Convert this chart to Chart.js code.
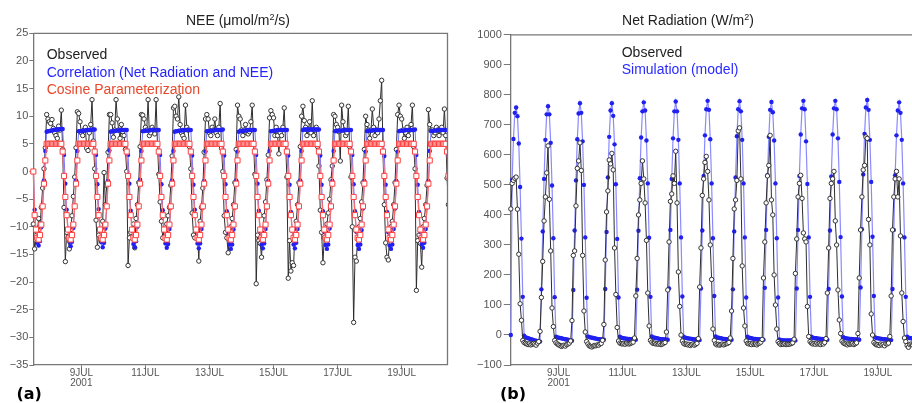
<!DOCTYPE html>
<html>
<head>
<meta charset="utf-8">
<script src="https://cdn.jsdelivr.net/npm/chart.js@4/dist/chart.umd.min.js"></script>
<style>
  html, body { margin: 0; padding: 0; background: #fff; width: 912px; height: 403px; overflow: hidden; }
  .panel { position: absolute; top: 0; }
</style>
</head>
<body>
<div class="panel" style="left:0"><canvas id="neeChart" width="460" height="403" style="width:460px;height:403px"></canvas></div>
<div class="panel" style="left:460px"><canvas id="rnChart" width="470" height="403" style="width:470px;height:403px"></canvas></div>
<script>
// hourly samples, first one at 12 UTC on 7 JUL 2001 (x axis in days of July)
const startDay = 7.5;
const endDay = 20.43;
const dayTicks = [9, 11, 13, 15, 17, 19];
const neeRange = [-35, 25, 5];
const rnRange = [-100, 1000, 100];

// NEE observed (umol/m2/s), one row per day
const neeObs = [
    [-9.5, -14.0, -12.5, -11.0, -8.5, -10.0, -6.5, -3.0, 0.5, 4.3, 10.3, 9.5],
    [9.0, 8.7, 9.4, 7.8, 7.0, 6.5, 6.0, 8.2, 7.5, 11.1, 4.0, -6.5, -16.3, -11.0, -12.0, -14.0, -10.5, -8.0, -4.5, -1.0, 4.3, 10.8, 10.5, 9.0],
    [7.0, 6.5, 7.5, 8.0, 4.2, 3.8, 7.0, 8.5, 13.0, 5.5, 0.5, -8.8, -13.7, -11.5, -10.5, -12.5, -9.0, -0.2, -6.0, -2.5, 3.5, 10.3, 10.3, 8.8],
    [6.2, 7.5, 13.0, 9.5, 7.5, 6.0, 8.5, 7.2, 6.5, 4.0, 0.0, -17.0, -12.0, -11.0, -10.5, -9.5, -13.8, -8.5, -6.0, -2.0, 4.5, 10.3, 10.2, 9.5],
    [8.0, 7.5, 13.0, 6.5, 7.0, 8.0, 7.5, 6.8, 13.0, 5.0, -0.5, -5.5, -9.0, -12.0, -10.7, -11.0, -9.5, -8.0, -6.5, -2.5, 2.8, 11.5, 11.8, 10.0],
    [9.5, 13.5, 8.5, 7.0, 6.5, 6.0, 12.0, 8.0, 7.5, 4.5, 0.5, -7.5, -11.5, -12.0, -10.5, -11.0, -16.2, -9.0, -6.5, -3.0, 3.5, 9.5, 10.3, 9.5],
    [7.0, 6.5, 8.0, 7.5, 9.5, 7.0, 6.5, 8.0, 12.3, 4.2, 0.0, -8.0, -11.0, -12.0, -14.7, -11.5, -10.0, -8.5, -6.0, -2.0, 4.0, 12.0, 10.0, 9.5],
    [7.5, 6.5, 7.5, 8.5, 7.0, 6.8, 7.2, 9.0, 12.0, 5.0, -0.5, -20.3, -11.5, -12.5, -13.0, -15.5, -10.5, -8.0, -5.5, -1.5, 3.0, 9.7, 11.0, 10.3],
    [9.7, 6.5, 8.0, 6.5, 3.2, 7.0, 6.5, 8.0, 11.5, 5.0, -1.0, -19.3, -12.5, -18.0, -16.5, -17.0, -11.0, -9.0, -6.0, -2.0, 4.5, 10.0, 11.8, 9.2],
    [8.0, 6.5, 7.5, 9.0, 7.0, 12.8, 6.5, 7.5, 8.0, 4.5, 1.0, -7.0, -11.0, -16.5, -12.0, -11.0, -9.5, -7.5, -5.0, -1.5, 1.0, 10.3, 10.0, 8.5],
    [8.0, 7.2, 1.9, 12.0, 9.0, 7.5, 6.5, 7.0, 11.8, 4.5, -1.0, -10.0, -27.3, -15.5, -16.2, -12.0, -10.0, -8.5, -5.5, -2.0, 4.0, 10.0, 8.5, 7.5],
    [6.0, 7.5, 11.3, 8.0, 6.5, 7.5, 7.0, 9.5, 12.8, 16.5, 3.5, -6.0, -12.9, -15.5, -16.0, -11.0, -10.0, -9.0, -6.0, -2.0, 4.0, 10.3, 12.0, 10.0],
    [9.5, 7.5, 6.0, 7.0, 8.0, 6.5, 7.5, 8.5, 12.0, 4.5, 0.5, -21.5, -12.5, -11.5, -13.0, -17.3, -10.0, -8.5, -6.0, -2.5, 11.2, 8.5, 7.5, 7.5],
    [6.5, 7.0, 8.0, 7.5, 6.5, 7.5, 8.0, 7.0, 11.3, 6.5, -1.2, -6.0]
].flat();

// NEE from the net radiation correlation
const neeCorr = [
    [0, -6.9, -10.5, -12.9, -13.4, -12.6, -10.1, -6.2, -1.6, 3.7, 7.2, 7.3],
    [7.3, 7.4, 7.4, 7.5, 7.5, 7.6, 7.6, 7.6, 7.7, 7.7, 7.7, 3.0, -2.2, -6.9, -10.4, -12.7, -13.5, -12.7, -10.2, -6.3, -1.6, 3.7, 7.3, 7.3],
    [7.3, 7.4, 7.4, 7.4, 7.5, 7.5, 7.5, 7.5, 7.6, 7.6, 7.6, 3.0, -2.3, -6.8, -10.5, -12.8, -13.7, -12.9, -10.3, -6.4, -1.7, 3.8, 7.2, 7.3],
    [7.3, 7.3, 7.4, 7.4, 7.4, 7.5, 7.5, 7.5, 7.5, 7.5, 7.5, 3.0, -2.2, -7.1, -10.7, -13.1, -13.7, -12.6, -10.0, -6.5, -1.5, 3.7, 7.3, 7.3],
    [7.4, 7.4, 7.4, 7.4, 7.5, 7.5, 7.5, 7.5, 7.5, 7.5, 7.5, 3.0, -2.3, -7.0, -10.7, -13.0, -13.8, -13.1, -10.4, -6.5, -1.6, 3.7, 7.2, 7.3],
    [7.3, 7.4, 7.4, 7.4, 7.5, 7.5, 7.5, 7.5, 7.5, 7.5, 7.5, 2.9, -2.4, -6.9, -10.6, -13.0, -13.9, -13.0, -10.4, -6.5, -1.7, 3.6, 7.3, 7.3],
    [7.4, 7.4, 7.4, 7.4, 7.5, 7.5, 7.5, 7.5, 7.5, 7.5, 7.6, 2.9, -2.3, -7.2, -10.9, -13.2, -14.0, -13.2, -10.5, -6.5, -1.6, 3.6, 7.2, 7.3],
    [7.3, 7.4, 7.4, 7.4, 7.5, 7.5, 7.5, 7.5, 7.5, 7.5, 7.5, 3.0, -2.2, -7.1, -10.8, -13.2, -13.9, -13.0, -10.4, -6.5, -1.7, 3.7, 7.3, 7.3],
    [7.4, 7.4, 7.4, 7.5, 7.5, 7.5, 7.5, 7.5, 7.5, 7.5, 7.5, 2.9, -2.4, -7.3, -10.7, -13.2, -13.9, -12.9, -10.4, -6.5, -1.6, 3.7, 7.5, 7.6],
    [7.6, 7.6, 7.6, 7.6, 7.6, 7.6, 7.6, 7.6, 7.6, 7.6, 7.6, 2.9, -2.4, -7.2, -10.9, -13.3, -14.0, -13.2, -10.3, -6.5, -1.7, 3.7, 7.3, 7.3],
    [7.4, 7.4, 7.4, 7.4, 7.4, 7.5, 7.5, 7.5, 7.5, 7.5, 7.5, 3.0, -2.3, -7.2, -10.9, -13.3, -14.0, -13.2, -10.6, -6.7, -1.7, 3.6, 7.3, 7.4],
    [7.4, 7.4, 7.4, 7.5, 7.5, 7.5, 7.5, 7.5, 7.5, 7.5, 7.5, 2.8, -2.4, -7.3, -11.0, -13.4, -14.0, -13.2, -10.4, -6.7, -1.7, 3.6, 7.3, 7.4],
    [7.4, 7.4, 7.4, 7.5, 7.5, 7.5, 7.5, 7.5, 7.5, 7.5, 7.6, 3.0, -2.4, -7.3, -10.9, -13.1, -13.8, -12.9, -10.4, -6.5, -1.7, 3.7, 7.3, 7.3],
    [7.4, 7.4, 7.4, 7.5, 7.5, 7.5, 7.5, 7.5, 7.5, 7.5, 7.5, 3.0]
].flat();

// NEE from the cosine parameterization
const neeCos = [
    [0, -7.9, -10.5, -12.0, -12.3, -11.5, -9.6, -6.3, -2.2, 2.0, 5.0, 5.0],
    [5, 5, 5, 5, 5, 5, 5, 5, 5, 5, 3.6, -0.8, -4.6, -7.9, -10.5, -12.0, -12.3, -11.5, -9.6, -6.3, -2.2, 2.0, 5, 5],
    [5, 5, 5, 5, 5, 5, 5, 5, 5, 5, 3.6, -0.8, -4.6, -7.9, -10.5, -12.0, -12.3, -11.5, -9.6, -6.3, -2.2, 2.0, 5, 5],
    [5, 5, 5, 5, 5, 5, 5, 5, 5, 5, 3.6, -0.8, -4.6, -7.9, -10.5, -12.0, -12.3, -11.5, -9.6, -6.3, -2.2, 2.0, 5, 5],
    [5, 5, 5, 5, 5, 5, 5, 5, 5, 5, 3.6, -0.8, -4.6, -7.9, -10.5, -12.0, -12.3, -11.5, -9.6, -6.3, -2.2, 2.0, 5, 5],
    [5, 5, 5, 5, 5, 5, 5, 5, 5, 5, 3.6, -0.8, -4.6, -7.9, -10.5, -12.0, -12.3, -11.5, -9.6, -6.3, -2.2, 2.0, 5, 5],
    [5, 5, 5, 5, 5, 5, 5, 5, 5, 5, 3.6, -0.8, -4.6, -7.9, -10.5, -12.0, -12.3, -11.5, -9.6, -6.3, -2.2, 2.0, 5, 5],
    [5, 5, 5, 5, 5, 5, 5, 5, 5, 5, 3.6, -0.8, -4.6, -7.9, -10.5, -12.0, -12.3, -11.5, -9.6, -6.3, -2.2, 2.0, 5, 5],
    [5, 5, 5, 5, 5, 5, 5, 5, 5, 5, 3.6, -0.8, -4.6, -7.9, -10.5, -12.0, -12.3, -11.5, -9.6, -6.3, -2.2, 2.0, 5, 5],
    [5, 5, 5, 5, 5, 5, 5, 5, 5, 5, 3.6, -0.8, -4.6, -7.9, -10.5, -12.0, -12.3, -11.5, -9.6, -6.3, -2.2, 2.0, 5, 5],
    [5, 5, 5, 5, 5, 5, 5, 5, 5, 5, 3.6, -0.8, -4.6, -7.9, -10.5, -12.0, -12.3, -11.5, -9.6, -6.3, -2.2, 2.0, 5, 5],
    [5, 5, 5, 5, 5, 5, 5, 5, 5, 5, 3.6, -0.8, -4.6, -7.9, -10.5, -12.0, -12.3, -11.5, -9.6, -6.3, -2.2, 2.0, 5, 5],
    [5, 5, 5, 5, 5, 5, 5, 5, 5, 5, 3.6, -0.8, -4.6, -7.9, -10.5, -12.0, -12.3, -11.5, -9.6, -6.3, -2.2, 2.0, 5, 5],
    [5, 5, 5, 5, 5, 5, 5, 5, 5, 5, 3.6, -0.8]
].flat();

// Net radiation observed (W/m2)
const rnObs = [
    [420, 505, 515, 522, 526, 419, 269, 104, 49, -18, -25, -28],
    [-30, -32, -29, -33, -31, -28, -30, -34, -27, -22, 12, 125, 245, 380, 460, 540, 630, 452, 280, 90, 28, -18, -26, -30],
    [-33, -35, -38, -36, -34, -37, -32, -30, -27, -20, 48, 265, 280, 430, 555, 580, 640, 548, 265, 80, 10, -22, -30, -36],
    [-38, -40, -37, -35, -36, -33, -34, -30, -28, -18, 35, 250, 410, 480, 583, 570, 605, 550, 290, 135, 25, -20, -27, -29],
    [-30, -28, -31, -27, -29, -30, -28, -26, -24, -10, 130, 255, 400, 450, 505, 580, 520, 440, 315, 140, 30, -18, -24, -28],
    [-27, -30, -29, -31, -28, -32, -30, -27, -25, 10, 150, 310, 445, 470, 530, 505, 612, 440, 210, 95, 0, -20, -28, -31],
    [-30, -33, -31, -35, -32, -30, -34, -31, -28, -12, 160, 290, 465, 520, 575, 595, 545, 450, 300, 185, 20, -18, -30, -33],
    [-31, -34, -32, -30, -33, -31, -29, -28, -25, -10, 80, 255, 420, 450, 515, 680, 690, 520, 230, 90, 30, -20, -28, -30],
    [-29, -32, -28, -31, -30, -33, -29, -27, -24, -15, 190, 310, 440, 530, 565, 665, 450, 400, 200, 100, 20, -22, -28, -32],
    [-30, -31, -29, -32, -30, -31, -30, -28, -26, -14, 205, 320, 460, 505, 532, 455, 340, 320, 310, 95, -5, -22, -27, -30],
    [-28, -31, -27, -30, -29, -32, -28, -30, -25, -12, 140, 290, 455, 505, 520, 545, 380, 300, 150, 50, 5, -20, -26, -29],
    [-30, -33, -29, -31, -30, -28, -32, -29, -26, 5, 190, 350, 460, 550, 565, 660, 655, 385, 300, 70, 0, -25, -30, -33],
    [-32, -35, -30, -33, -31, -36, -29, -30, -27, -5, 130, 350, 460, 520, 545, 460, 520, 330, 140, 45, -10, -22, -35, -41],
    [-32, -30, -33, -29, -31, -30, -28, -32, -27, -20, 50, 150]
].flat();

// Net radiation simulated by the model
const rnModel = [
    [0, 517, 653, 740, 758, 729, 638, 493, 321, 127, -2, -8],
    [-9, -11, -12, -14, -15, -17, -18, -19, -21, -22, -22, 152, 345, 520, 650, 735, 762, 735, 640, 498, 322, 126, -6, -8],
    [-9, -10, -11, -12, -13, -14, -15, -16, -17, -18, -19, 150, 348, 515, 652, 738, 772, 740, 645, 500, 325, 124, -5, -7],
    [-8, -9, -10, -11, -12, -13, -14, -14, -15, -15, -16, 153, 343, 525, 660, 748, 772, 730, 635, 502, 320, 125, -6, -9],
    [-10, -11, -12, -12, -13, -13, -14, -14, -15, -15, -16, 151, 347, 522, 658, 745, 775, 748, 648, 505, 324, 127, -5, -8],
    [-9, -10, -11, -12, -13, -14, -14, -15, -15, -16, -16, 155, 350, 520, 655, 745, 778, 745, 650, 505, 325, 128, -6, -9],
    [-10, -11, -12, -12, -13, -14, -15, -15, -16, -16, -17, 155, 348, 530, 665, 752, 780, 750, 652, 505, 322, 130, -5, -8],
    [-9, -10, -11, -12, -13, -13, -14, -15, -15, -16, -16, 152, 345, 525, 662, 752, 779, 745, 650, 505, 325, 125, -6, -9],
    [-10, -11, -12, -13, -13, -14, -14, -15, -15, -16, -16, 157, 350, 532, 660, 750, 776, 742, 648, 505, 322, 125, -15, -17],
    [-17, -18, -18, -18, -18, -18, -18, -18, -18, -18, -18, 155, 350, 530, 668, 755, 780, 752, 645, 503, 325, 127, -6, -9],
    [-10, -11, -11, -12, -12, -13, -13, -14, -14, -15, -16, 153, 348, 528, 668, 755, 780, 752, 655, 510, 326, 128, -7, -10],
    [-11, -12, -12, -13, -13, -14, -14, -15, -15, -16, -16, 158, 352, 535, 670, 758, 783, 750, 650, 510, 327, 130, -8, -10],
    [-11, -12, -12, -13, -14, -14, -15, -15, -16, -16, -17, 153, 350, 532, 665, 748, 775, 740, 650, 505, 325, 127, -6, -9],
    [-10, -11, -12, -13, -13, -14, -14, -15, -15, -16, -16, 152]
].flat();

const FONT = '"Liberation Sans", Arial, sans-serif';
const AXIS_GRAY = '#777';

function toPoints(values) {
    return values.map((v, i) => ({ x: startDay + i / 24, y: v }));
}

function minusLabel(v) {
    return v < 0 ? '\u2212' + Math.abs(v) : String(v);
}

// titles, in-plot legend text, panel letter and the box around the plot
const panelText = {
    id: 'panelText',
    afterDraw(chart, args, opts) {
        const ctx = chart.ctx;
        const area = chart.chartArea;
        ctx.save();

        ctx.strokeStyle = AXIS_GRAY;
        ctx.lineWidth = 1.3;
        ctx.beginPath();
        ctx.moveTo(area.left, area.top);
        ctx.lineTo(area.right, area.top);
        ctx.lineTo(area.right, area.bottom);
        ctx.stroke();

        ctx.textBaseline = 'alphabetic';
        ctx.textAlign = 'left';
        ctx.fillStyle = '#222';
        const big = '14px ' + FONT;
        const small = '9px ' + FONT;
        ctx.font = big;
        const w1 = ctx.measureText(opts.title[0]).width;
        const w3 = ctx.measureText(opts.title[1]).width;
        ctx.font = small;
        const w2 = ctx.measureText('2').width;
        let x = opts.titleX - (w1 + w2 + w3) / 2;
        ctx.font = big;
        ctx.fillText(opts.title[0], x, 25);
        x += w1;
        ctx.font = small;
        ctx.fillText('2', x, 20);
        x += w2;
        ctx.font = big;
        ctx.fillText(opts.title[1], x, 25);

        opts.legend.forEach(item => {
            ctx.fillStyle = item.color;
            ctx.fillText(item.text, opts.legendX, item.y);
        });

        ctx.fillStyle = '#000';
        ctx.font = 'bold 16px "DejaVu Sans", sans-serif';
        ctx.fillText(opts.panel, opts.panelX, 398.5);
        ctx.restore();
    }
};

function timeAxis() {
    return {
        type: 'linear',
        min: startDay,
        max: endDay,
        afterBuildTicks: axis => { axis.ticks = dayTicks.map(v => ({ value: v })); },
        afterFit: axis => { axis.height = 38; },
        ticks: {
            color: '#555',
            font: { family: FONT, size: 10, lineHeight: 1 },
            padding: 0,
            maxRotation: 0,
            autoSkip: false,
            callback: v => v === 9 ? ['9JUL', '2001'] : v + 'JUL'
        },
        grid: { drawOnChartArea: false, tickLength: 3, tickColor: AXIS_GRAY },
        border: { color: AXIS_GRAY, width: 1.3 }
    };
}

function valueAxis(range, width, tickLength, padding) {
    return {
        min: range[0],
        max: range[1],
        afterFit: axis => { axis.width = width; },
        ticks: {
            stepSize: range[2],
            color: '#555',
            font: { family: FONT, size: 11 },
            padding: padding,
            callback: minusLabel
        },
        grid: { drawOnChartArea: false, tickLength: tickLength, tickColor: AXIS_GRAY },
        border: { color: AXIS_GRAY, width: 1.3 }
    };
}

const clipBox = { left: 4, top: 4, right: 0, bottom: 4 };

new Chart(document.getElementById('neeChart'), {
    type: 'line',
    data: {
        datasets: [
            {
                label: 'Observed',
                data: toPoints(neeObs),
                order: 3,
                borderColor: '#2e2e2e',
                borderWidth: 1,
                pointRadius: 2.2,
                pointBackgroundColor: '#fff',
                pointBorderColor: '#333',
                pointBorderWidth: 1,
                clip: clipBox
            },
            {
                label: 'Correlation (Net Radiation and NEE)',
                data: toPoints(neeCorr),
                order: 2,
                borderColor: '#7676ff',
                borderWidth: 1,
                pointRadius: 2.2,
                pointBackgroundColor: '#2020f5',
                pointBorderColor: '#2020f5',
                pointBorderWidth: 0,
                clip: clipBox
            },
            {
                label: 'Cosine Parameterization',
                data: toPoints(neeCos),
                order: 1,
                borderColor: '#ff6b6b',
                borderWidth: 1.3,
                pointStyle: 'rect',
                pointRadius: 3.6,
                pointBackgroundColor: '#fff',
                pointBorderColor: '#ff4040',
                pointBorderWidth: 1,
                clip: clipBox
            }
        ]
    },
    options: {
        responsive: false,
        animation: false,
        devicePixelRatio: 1,
        events: [],
        layout: { padding: { left: 0, top: 33.3, right: 12.5, bottom: 0 } },
        scales: {
            x: timeAxis(),
            y: valueAxis(neeRange, 33.3, 4, 1)
        },
        plugins: {
            legend: { display: false },
            tooltip: { enabled: false },
            panelText: {
                title: ['NEE (\u03bcmol/m', '/s)'],
                titleX: 238,
                legendX: 46.7,
                legend: [
                    { text: 'Observed', color: '#1e1e1e', y: 59.3 },
                    { text: 'Correlation (Net Radiation and NEE)', color: '#2424ff', y: 76.8 },
                    { text: 'Cosine Parameterization', color: '#e8482c', y: 94.3 }
                ],
                panel: '(a)',
                panelX: 16.5
            }
        }
    },
    plugins: [panelText]
});

new Chart(document.getElementById('rnChart'), {
    type: 'line',
    data: {
        datasets: [
            {
                label: 'Observed',
                data: toPoints(rnObs),
                order: 1,
                borderColor: '#2e2e2e',
                borderWidth: 1,
                pointRadius: 2.2,
                pointBackgroundColor: '#fff',
                pointBorderColor: '#333',
                pointBorderWidth: 1,
                clip: clipBox
            },
            {
                label: 'Simulation (model)',
                data: toPoints(rnModel),
                order: 2,
                borderColor: '#8a8aff',
                borderWidth: 1.2,
                pointRadius: 2.2,
                pointBackgroundColor: '#2020f0',
                pointBorderColor: '#2020f0',
                pointBorderWidth: 0,
                clip: clipBox
            }
        ]
    },
    options: {
        responsive: false,
        animation: false,
        devicePixelRatio: 1,
        events: [],
        layout: { padding: { left: 0, top: 34.8, right: 6.5, bottom: 0 } },
        scales: {
            x: timeAxis(),
            y: valueAxis(rnRange, 50.8, 7, 2)
        },
        plugins: {
            legend: { display: false },
            tooltip: { enabled: false },
            panelText: {
                title: ['Net Radiation (W/m', ')'],
                titleX: 228,
                legendX: 161.7,
                legend: [
                    { text: 'Observed', color: '#1e1e1e', y: 56.7 },
                    { text: 'Simulation (model)', color: '#2a2aff', y: 73.7 }
                ],
                panel: '(b)',
                panelX: 40
            }
        }
    },
    plugins: [panelText]
});
</script>
</body>
</html>
